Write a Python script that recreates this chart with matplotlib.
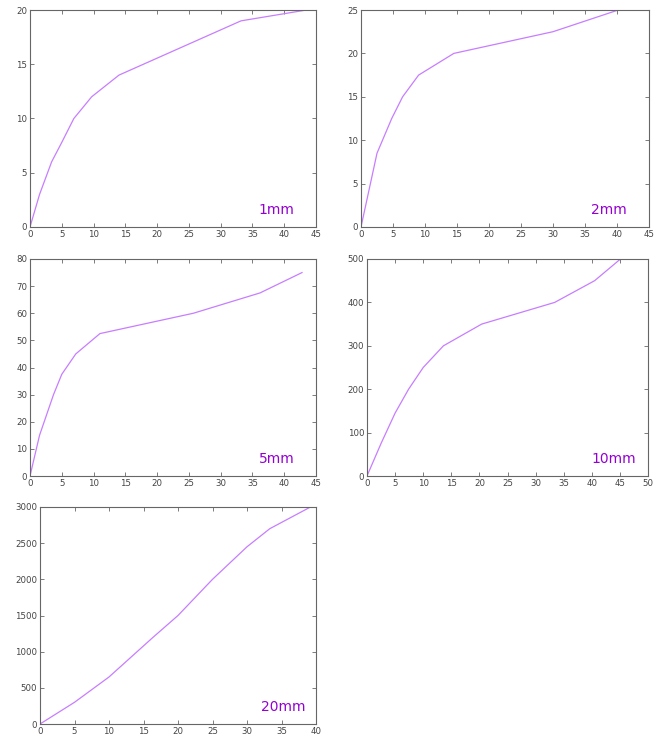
import matplotlib.pyplot as plt

# -----------------------------
# data
# -----------------------------
x_1mm = [0, 1.5, 3.4, 5.0, 6.9, 9.7, 14.0, 33.2, 43.5]
y_1mm = [0, 3.0, 6.0, 7.8, 10.0, 12.0, 14.0, 19.0, 20.0]

x_2mm = [0, 2.5, 4.8, 6.5, 9.0, 14.5, 30.0, 40.2]
y_2mm = [0, 8.5, 12.5, 15.0, 17.5, 20.0, 22.5, 25.0]

x_5mm = [0, 1.5, 3.7, 5.0, 7.2, 11.0, 25.7, 36.2, 42.8]
y_5mm = [0, 15, 30, 37.5, 45, 52.5, 60, 67.5, 75]

x_10mm = [0, 2.5, 5.0, 7.4, 10.0, 13.6, 20.4, 33.4, 40.5, 45.1]
y_10mm = [0, 75, 145, 200, 250, 300, 350, 400, 450, 500]

x_20mm = [0, 5.0, 10.0, 16.4, 20.0, 25.0, 30.0, 33.3, 39.2]
y_20mm = [0, 300, 650, 1200, 1500, 2000, 2450, 2700, 3000]

labels = ["1mm", "2mm", "5mm", "10mm", "20mm"]
xlims = [45, 45, 45, 50, 40]
ylims = [20, 25, 80, 500, 3000]
yticks = [5, 5, 10, 100, 500]

LINE = "#c77dff"
TEXT = "#9400d3"
FRAME = "#666666"

fig = plt.figure(figsize=(6.61, 7.40), dpi=100)
W, H = 661.0, 740.0

# axes boxes in pixels: left, top, right, bottom
boxes = [
    (30, 10, 316, 227),
    (361, 10, 649, 227),
    (30, 259, 316, 476),
    (367, 259, 648, 476),
    (40, 507, 316, 724),
]

series = [(x_1mm, y_1mm), (x_2mm, y_2mm), (x_5mm, y_5mm),
          (x_10mm, y_10mm), (x_20mm, y_20mm)]

for i, (l, t, r, b) in enumerate(boxes):
    ax = fig.add_axes([l / W, 1 - b / H, (r - l) / W, (b - t) / H])
    xs, ys = series[i]
    ax.plot(xs, ys, color=LINE, lw=0.9)
    ax.set_xlim(0, xlims[i])
    ax.set_ylim(0, ylims[i])
    ax.set_xticks(range(0, xlims[i] + 1, 5))
    ax.set_yticks(range(0, ylims[i] + 1, yticks[i]))
    ax.tick_params(direction="in", top=True, right=True, length=3,
                   width=0.6, color=FRAME, labelsize=6.2,
                   labelcolor="#444444", pad=2)
    for s in ax.spines.values():
        s.set_color(FRAME)
        s.set_linewidth(0.8)
    ax.text(0.80, 0.08, labels[i], transform=ax.transAxes, ha="left",
            va="center", fontsize=10, color=TEXT)

fig.savefig("out.png", dpi=100)
